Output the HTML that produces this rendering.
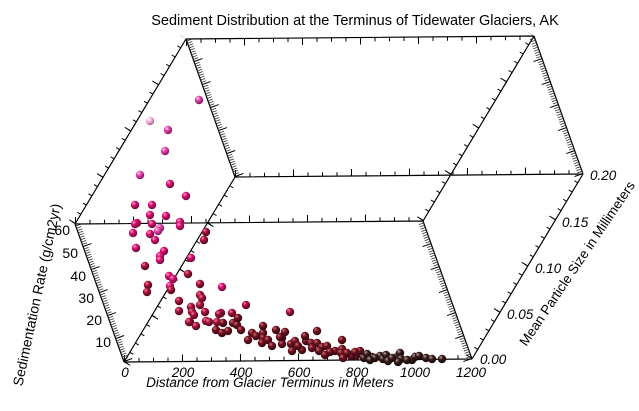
<!DOCTYPE html>
<html><head><meta charset="utf-8"><style>
html,body{margin:0;padding:0;background:#fff;}
svg{display:block;font-family:"Liberation Sans",sans-serif;}
</style></head><body>
<svg width="639" height="411" viewBox="0 0 639 411" xmlns="http://www.w3.org/2000/svg">
<defs>
<radialGradient id="gp" cx="0.35" cy="0.3" r="0.7"><stop offset="0" stop-color="#ffd0f0"/><stop offset="0.4" stop-color="#e04aa8"/><stop offset="1" stop-color="#8a1060"/></radialGradient>
<radialGradient id="gw" cx="0.35" cy="0.3" r="0.7"><stop offset="0" stop-color="#ffffff"/><stop offset="0.5" stop-color="#f0b0dc"/><stop offset="1" stop-color="#b06090"/></radialGradient>
<radialGradient id="gh" cx="0.35" cy="0.3" r="0.7"><stop offset="0" stop-color="#ffa0d0"/><stop offset="0.4" stop-color="#dc1072"/><stop offset="1" stop-color="#700838"/></radialGradient>
<radialGradient id="gc" cx="0.35" cy="0.3" r="0.7"><stop offset="0" stop-color="#f08090"/><stop offset="0.4" stop-color="#a8103e"/><stop offset="1" stop-color="#4a0818"/></radialGradient>
<radialGradient id="gd" cx="0.35" cy="0.3" r="0.7"><stop offset="0" stop-color="#d07070"/><stop offset="0.4" stop-color="#701020"/><stop offset="1" stop-color="#300810"/></radialGradient>
<radialGradient id="gk" cx="0.35" cy="0.3" r="0.7"><stop offset="0" stop-color="#b0a0a0"/><stop offset="0.4" stop-color="#3a1a1a"/><stop offset="1" stop-color="#100808"/></radialGradient>
</defs>
<text x="355" y="25" font-size="14.5" text-anchor="middle">Sediment Distribution at the Terminus of Tidewater Glaciers, AK</text>
<g stroke="#000" stroke-width="1.2" fill="none">
<path d="M124 362L472 359M75 224L423 221M235 177L583 174M186 39L534 36M124 362L235 177M472 359L583 174M75 224L186 39M423 221L534 36M124 362L75 224M472 359L423 221M235 177L186 39M583 174L534 36"/>
</g>
<!-- x ticks -->
<g stroke="#000" fill="none">
<g stroke-width="4" stroke-dasharray="1 13.5">
<path d="M124 360L472 357M75 222L423 219M235 175L583 172M186 41L534 38"/>
</g>
<g stroke-width="7" stroke-dasharray="1 57">
<path d="M124 358.5L472 355.5M75 220.5L423 217.5M235 173.5L583 170.5M186 42.5L534 39.5"/>
</g>
<!-- y ticks -->
<g stroke-width="4" stroke-dasharray="1 9.79">
<path d="M125.7 363L236.7 178M470.3 358L581.3 173M73.3 223L184.3 38M421.3 220L532.3 35"/>
</g>
<g stroke-width="7" stroke-dasharray="1 52.9">
<path d="M127 364L238 179M469 357L580 172M72 222L183 37M420 219L531 34"/>
</g>
</g>
<!-- z ticks -->
<g stroke="#333" fill="none">
<g stroke-width="5" stroke-dasharray="0.8 1.64">
<path d="M126.4 361.2L77.4 223.2M469.6 359.8L420.6 221.8M237.4 176.2L188.4 38.2M580.6 174.8L531.6 36.8"/>
</g>
<g stroke-width="9" stroke-dasharray="1 23.4" stroke="#000">
<path d="M128.2 360.5L79.2 222.5M467.8 360.5L418.8 222.5M239.2 175.5L190.2 37.5M578.8 175.5L529.8 37.5"/>
</g>
</g>
<g id="pts"></g>
<g font-size="13.5" font-style="italic" text-anchor="middle">
<text x="125" y="377">0</text><text x="183" y="377">200</text><text x="241" y="377">400</text><text x="299" y="377">600</text><text x="357" y="377">800</text><text x="415" y="377">1000</text><text x="471" y="377">1200</text>
<text x="270" y="387">Distance from Glacier Terminus in Meters</text>
</g>
<g font-size="13.5" text-anchor="start" font-style="italic">
<text x="480" y="364">0.00</text><text x="507" y="319">0.05</text><text x="535" y="273">0.10</text><text x="562" y="227">0.15</text><text x="590" y="180">0.20</text>
</g>
<g font-size="14" text-anchor="end">
<text x="70" y="235">60</text><text x="78" y="258">50</text><text x="86" y="281">40</text><text x="94" y="303">30</text><text x="102" y="325">20</text><text x="111" y="347">10</text>
</g>
<text transform="translate(38,295) rotate(-78)" font-size="14" text-anchor="middle" dominant-baseline="middle">Sedimentation Rate (g/cm2yr)</text>
<text transform="translate(578,264) rotate(-56)" font-size="13.5" text-anchor="middle" dominant-baseline="middle">Mean Particle Size in Millimeters</text>
</svg>
<script>
var NS="http://www.w3.org/2000/svg";
var pts=[
[199,100,"gp"],[150,121,"gw"],[168,130,"gp"],[165,151,"gp"],[140,175,"gp"],[170,184,"gh"],[186,196,"gh"],[135,205,"gh"],[152,205,"gh"],[150,215,"gh"],[166,216,"gh"],[180,222,"gh"],[137,223,"gh"],
[135,224,"gh"],[152,224,"gh"],[160,228,"gp"],[158,231,"gp"],[133,233,"gh"],[150,234,"gh"],[136,248,"gh"],[155,240,"gh"],[164,251,"gh"],[180,226,"gh"],[206,232,"gc"],[204,240,"gc"],[191,258,"gh"],[160,256,"gh"],[160,260,"gh"],[145,266,"gc"],
[169,276,"gh"],[188,274,"gc"],[173,279,"gh"],[148,285,"gc"],[147,292,"gc"],[170,286,"gh"],[171,290,"gc"],[179,301,"gc"],[200,284,"gc"],[222,287,"gh"],[200,295,"gc"],[202,298,"gc"],[191,307,"gc"],[192,312,"gc"],[200,305,"gc"],[205,312,"gc"],[190,322,"gc"],[196,326,"gc"],[194,315,"gc"],[206,321,"gc"],[209,322,"gc"],[179,311,"gc"],[189,322,"gc"],[221,313,"gc"],[232,313,"gc"],[219,314,"gc"],[217,322,"gc"],[223,323,"gd"],[216,330,"gd"],[222,333,"gd"],[228,331,"gd"],[233,323,"gd"],
[246,305,"gc"],[290,312,"gc"],[237,325,"gd"],[241,330,"gd"],[252,333,"gd"],[263,333,"gd"],[263,326,"gd"],[263,338,"gd"],[262,343,"gd"],[268,340,"gd"],[282,338,"gd"],[285,332,"gd"],[282,344,"gd"],[280,337,"gd"],[291,344,"gd"],[295,341,"gd"],[292,351,"gd"],[306,341,"gd"],[302,350,"gd"],[311,343,"gd"],[317,331,"gd"],[317,343,"gd"],[322,347,"gd"],[319,351,"gd"],[327,346,"gd"],[335,351,"gd"],[342,349,"gd"],[341,353,"gd"],[342,340,"gd"],[343,358,"gd"],[356,356,"gd"],[360,351,"gd"],[351,356,"gd"],[355,352,"gd"],[364,358,"gk"],[372,357,"gk"],[380,356,"gk"],[375,358,"gk"],[383,359,"gk"],[386,355,"gk"],[388,361,"gk"],[398,356,"gk"],[400,353,"gk"],[401,359,"gk"],[398,362,"gk"],[412,360,"gk"],[415,357,"gk"],[419,356,"gk"],[426,358,"gk"],[432,359,"gk"],[442,359,"gk"],
[248,340,"gd"],[256,336,"gd"],[272,346,"gd"],[305,336,"gd"],[330,352,"gd"],[347,353,"gd"],[367,354,"gk"],[392,358,"gk"],[407,360,"gk"],[370,360,"gk"],[238,318,"gd"],[276,330,"gd"],[298,346,"gd"],[312,348,"gd"],[325,355,"gd"]
];
var g=document.getElementById("pts");
pts.forEach(function(p){var c=document.createElementNS(NS,"circle");c.setAttribute("cx",p[0]);c.setAttribute("cy",p[1]);c.setAttribute("r",4.2);c.setAttribute("fill","url(#"+p[2]+")");g.appendChild(c);});
</script>
</body></html>
